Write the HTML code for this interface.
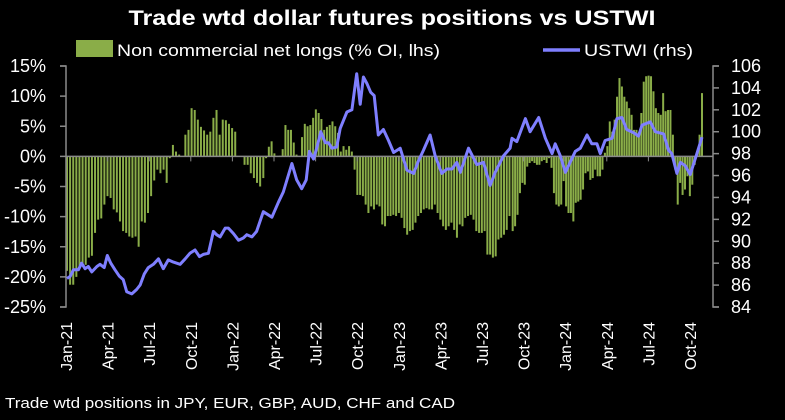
<!DOCTYPE html>
<html><head><meta charset="utf-8"><style>
html,body{margin:0;padding:0;background:#000;}
svg{display:block;font-family:"Liberation Sans",Arial,sans-serif;}
</style></head><body>
<svg id="chart" width="785" height="420" viewBox="0 0 785 420" xmlns="http://www.w3.org/2000/svg">
<rect width="785" height="420" fill="#000"/>
<text x="392" y="25" text-anchor="middle" fill="#fff" font-size="21" font-weight="bold" textLength="527" lengthAdjust="spacingAndGlyphs">Trade wtd dollar futures positions  vs USTWI</text>
<rect x="76" y="40" width="37" height="17" fill="#8aad48"/>
<text x="117" y="56" fill="#fff" font-size="17" textLength="323" lengthAdjust="spacingAndGlyphs">Non commercial net longs (% OI, lhs)</text>
<line x1="543" y1="50" x2="580" y2="50" stroke="#7f7fff" stroke-width="3.5"/>
<text x="584" y="56" fill="#fff" font-size="17" textLength="109" lengthAdjust="spacingAndGlyphs">USTWI (rhs)</text>
<g id="plot"></g>
<text x="5" y="408" fill="#fff" font-size="14.5" textLength="450" lengthAdjust="spacingAndGlyphs">Trade wtd positions in JPY, EUR, GBP, AUD, CHF and CAD</text>
</svg>
<script>
const netLongs1 = [-19,-21.3,-21.3,-20,-18.5,-18.2,-18,-16.8,-16.5,-12.7,-10.5,-10.3,-8,-6.6,-6.9,-8.8,-9.3,-10.8,-12.4,-12.7,-13.3,-13.5,-13.3,-15,-10.8,-11,-9.4,-6.6,-4,-2.2,-2.8,-2.2,-4.4,-0.3,1.9,0.8,0.3,0,3.6,4.4,8,7.7,6.1,4.9,4.3,3.6,4.1,6.4,7.7,3.6,6.1,6,5.4,4.7,4.1,0,0,-1.4,-1.4,-2.8,-3.6,-4.4,-5];
const netLongs2 = [-3.6,-0.3,1.6,2.5,0.5,0,0.1,1.2,5.2,4.4,4.4,2.3,0.3,-0.1,3.2,5.4,5,5.2,6.4,7.8,7.2,6.2,4.4,4.9,5.2,5.8,5,3.9,0.8,1.7,1.1,1.7,0.8,-2.2,-6.4,-6.4,-6.6,-8,-9.4,-8.3,-8.8,-8,-8.3,-11.3,-11.6,-9.9,-9.9,-9.7,-9.9,-9.4,-10.2,-11.9,-13,-12.4,-12.2,-11,-9.9,-9.4,-8.8,-8.6,-8.8,-8.8,-8,-9.4,-10.5,-11.6,-12.2,-11.6,-11,-12.2,-13.5,-11.3,-11.6,-10.2,-9.9,-9.7,-10.5,-12.4,-12.7,-12.7,-12.4,-16.3,-16.3,-16.8,-16.6,-13.8,-13.5,-13,-12.2,-9.9];
const netLongs3 = [-12.4,-11.6,-9.7,-6.1,-4.4,-4.7,-1.7,-1.1,-0.8,-1.1,-1.4,-1.4,-0.8,-0.6,-1.1,-0.3,-1.9,-6.1,-8,-8.3,-8,-4.1,-8.3,-9.4,-9.4,-10.8,-7.7,-7.5,-7.2,-5.5,-2.8,-2.5,-3.9,-3.6,-2.2,-3.3,-3.3,-2.2,0.6,1.7,5.8,4.1,6.1,9.9,13,11.6,9.9,9.1,8,6.9,4.4,4.4,3.3,7.2,12.4,13.3,13.4,13.3,10.8,8,7.2,6.9,10.5,7.5,7.7,7.7,3.6,-2.2,-8,-4.4,-6.4,-5.5,-3.3,-6.6,-4.7,-1.4,0.6,3.6,10.5];
// week range [start, end] covered by each block of bars
const segWeeks = [[0,60.8],[61.8,139.3],[140.3,199.9]];
const ustwiWeek = [0,1,2,3.6,4.6,5.7,6.7,7.8,9.4,10.4,11.7,12.7,13.8,15.1,16.5,17.7,18.8,20.4,21.9,23,24.3,25.6,27.2,28.8,30.3,31.9,33.5,35.6,37.2,38.7,40.3,41.7,42.9,44.5,46.1,47.1,48.2,49.8,50.8,52.4,54,55.5,56.6,58.2,59.7,61.8,64.5,66.6,68.1,70.8,72.3,73.9,75.3,76.3,77.6,78.6,79.9,81.3,82.3,83.4,84.9,86,88.1,89.7,91.2,92.3,93.3,94.4,95.6,96.7,98,99.6,101.2,102.8,104.9,107,109.1,110.6,112.2,114.3,115.9,118,119.6,121.2,122.7,123.8,126.4,129,131.1,133.2,134.8,137.4,139.5,140.1,141.6,144.3,145.8,148.5,150.6,152.7,153.7,155.3,156.9,160,161.6,163.7,165.2,166.8,167.9,169.4,171.6,173.1,174.7,176.2,178.4,179.9,181,183.6,185.2,187.8,189.4,190.4,192,193.1,194.6,196.2,198.3,199.9];
const ustwi = [86.6,86.8,87.4,87.4,88.0,87.5,87.7,87.2,87.7,87.9,87.6,88.7,88.0,87.4,86.8,86.5,85.4,85.2,85.6,86.0,87.0,87.6,87.9,88.4,87.5,88.3,88.1,87.9,88.4,88.9,89.2,88.6,88.8,88.9,90.9,90.6,90.4,91.2,91.2,90.7,90.1,90.3,90.6,90.4,90.9,92.7,92.2,93.6,94.5,97.1,95.6,94.8,95.6,98.2,97.5,98.5,100.0,99.0,99.0,98.5,98.6,100.3,101.8,102.0,105.3,102.5,105.0,104.4,103.6,103.3,99.7,100.2,99.2,98.1,98.5,96.5,96.2,97.3,98.3,99.7,97.8,96.2,96.6,96.6,97.2,96.3,98.5,97.0,97.2,95.1,96.3,97.8,98.5,99.4,99.1,101.2,100.0,101.3,99.4,98.0,98.9,97.8,96.3,98.2,98.5,99.7,98.9,98.9,98.0,99.2,99.4,101.2,101.3,100.2,99.9,99.6,100.6,100.9,100.0,99.8,98.3,98.0,96.2,97.2,96.9,96.1,98.0,99.5];
const leftTicks = [15,10,5,0,-5,-10,-15,-20,-25];
const rightTicks = [106,104,102,100,98,96,94,92,90,88,86,84];
const dateLabels = ["Jan-21","Apr-21","Jul-21","Oct-21","Jan-22","Apr-22","Jul-22","Oct-22","Jan-23","Apr-23","Jul-23","Oct-23","Jan-24","Apr-24","Jul-24","Oct-24"];

const NS="http://www.w3.org/2000/svg";
const plot=document.getElementById('plot');
const X0=67,X1=702,YT=66,YB=307,XL=66,XR=713;
const yL=v=>YT+(15-v)/40*(YB-YT);
const yR=v=>YT+(106-v)/22*(YB-YT);
const xWeek=w=>X0+w*(X1-X0)/199.9;
const xDate=k=>66+k*41.6;
function mk(tag,attrs,parent){const e=document.createElementNS(NS,tag);for(const k in attrs)e.setAttribute(k,attrs[k]);(parent||plot).appendChild(e);return e;}

// bars
const bw=2;
[netLongs1,netLongs2,netLongs3].forEach((arr,s)=>{
  const [w0,w1]=segWeeks[s];
  arr.forEach((v,i)=>{
    const w=w0+(arr.length>1?i*(w1-w0)/(arr.length-1):0);
    const y0=yL(0),y1=yL(v);
    const r=mk('rect',{x:xWeek(w)-bw/2,y:Math.min(y0,y1),width:bw,height:Math.abs(y1-y0),fill:'#8aad48'});
    
    
  });
});
// zero line
const zl=mk('line',{x1:XL,x2:XR,y1:yL(0),y2:yL(0),stroke:'#8a8a8a','stroke-width':1.5});


dateLabels.forEach((d,k)=>{
  const x=xDate(k);
  const t=mk('line',{x1:x,x2:x,y1:yL(0),y2:yL(0)+5,stroke:'#8a8a8a','stroke-width':1});
  
  
  const tx=mk('text',{x:0,y:0,fill:'#fff','font-size':16,'text-anchor':'end',transform:`translate(${x+6},322) rotate(-90)`});
  tx.textContent=d;
  
  
});
// axes
const la=mk('path',{d:`M${XL-6},${YT}H${XL}V${YB}H${XL-6}`,stroke:'#8a8a8a',fill:'none','stroke-width':1.5});


const ra=mk('path',{d:`M${XR+6},${YT}H${XR}V${YB}H${XR+6}`,stroke:'#8a8a8a',fill:'none','stroke-width':1.5});


leftTicks.forEach(v=>{
  const y=yL(v);
  mk('line',{x1:XL-6,x2:XL,y1:y,y2:y,stroke:'#8a8a8a','stroke-width':1.5});
  const t=mk('text',{x:46,y:y+6,fill:'#fff','font-size':18,'text-anchor':'end'});
  t.textContent=v+'%';
  
  
});
rightTicks.forEach(v=>{
  const y=yR(v);
  mk('line',{x1:XR,x2:XR+6,y1:y,y2:y,stroke:'#8a8a8a','stroke-width':1.5});
  const t=mk('text',{x:731,y:y+6,fill:'#fff','font-size':18});
  t.textContent=v;
  
  
});
// line
const pts=ustwi.map((v,i)=>xWeek(ustwiWeek[i]).toFixed(1)+','+yR(v).toFixed(1)).join(' ');
const pl=mk('polyline',{points:pts,fill:'none',stroke:'#7f7fff','stroke-width':3,'stroke-linejoin':'round'});


</script>
</body></html>
